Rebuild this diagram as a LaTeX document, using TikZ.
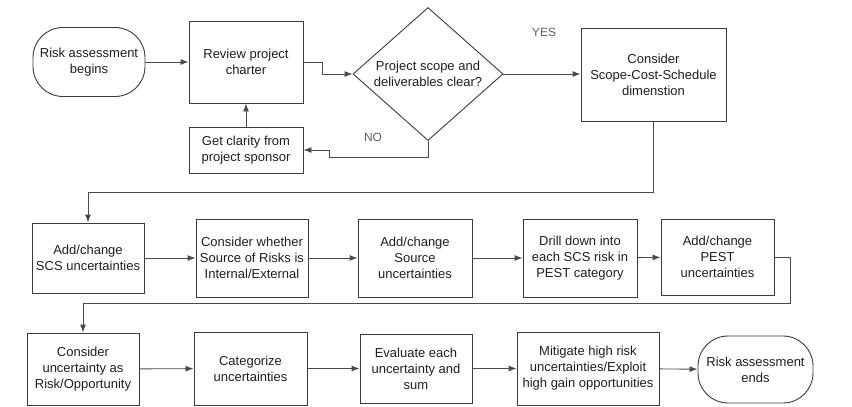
\documentclass[tikz,border=0pt]{standalone}
\usepackage{fontspec}
\setmainfont{Liberation Sans}
\usetikzlibrary{shapes.geometric,arrows.meta}
\definecolor{RAbox}{HTML}{3A3A3A}
\definecolor{RAline}{HTML}{4A4A4A}
\definecolor{RAtext}{HTML}{1E1E1E}
\definecolor{RAlabel}{HTML}{5E5E5E}
\newcommand{\boxfont}{\fontsize{13}{16}\selectfont}
\newcommand{\termround}{30pt}
\tikzset{
  stepbox/.style 2 args={draw=RAbox, line width=0.9pt, rectangle,
    align=center, inner sep=0pt, text=RAtext, font=\boxfont,
    minimum width=#1pt, minimum height=#2pt},
  termbox/.style 2 args={stepbox={#1}{#2}, rounded corners=\termround},
  decbox/.style={draw=RAbox, line width=0.9pt, diamond, aspect=1.13,
    align=center, inner sep=0pt, text=RAtext, font=\boxfont,
    minimum width=150pt, minimum height=133pt},
  answer/.style={text=RAlabel, font=\fontsize{12}{14}\selectfont, inner sep=0pt},
  flow/.style={draw=RAline, line width=0.9pt, -{Latex[length=8pt,width=6pt]}}
}

\begin{document}
\begin{tikzpicture}[x=1pt, y=-1pt]
  \useasboundingbox (0,0) rectangle (852,407);

  % top row
  \node[termbox={112}{69}] (rabegin) at (89,62) {Risk assessment\\begins};
  \node[stepbox={114}{82}] (review) at (246,62) {Review project\\charter};
  \node[decbox] (scopeclear) at (428,74) {Project scope and\\deliverables clear?};
  \node[stepbox={145}{93}] (scsdim) at (653.5,74.5) {Consider\\Scope-Cost-Schedule\\dimenstion};
  \node[stepbox={114}{46}] (clarity) at (246,150) {Get clarity from\\project sponsor};
  \node[answer] (yes) at (544,32) {YES};
  \node[answer] (no) at (373,137) {NO};

  % second row
  \node[stepbox={112}{70}] (scsadd) at (88,258) {Add/change\\SCS uncertainties};
  \node[stepbox={112}{78}] (srcint) at (252,258) {Consider whether\\Source of Risks is\\Internal/External};
  \node[stepbox={114}{78}] (srcadd) at (415,258) {Add/change\\Source\\uncertainties};
  \node[stepbox={114}{78}] (drillpest) at (580,258) {Drill down into\\each SCS risk in\\PEST category};
  \node[stepbox={113}{76}] (pestadd) at (717.5,257) {Add/change\\PEST\\uncertainties};

  % third row
  \node[stepbox={112}{72}] (riskopp) at (83,369) {Consider\\uncertainty as\\Risk/Opportunity};
  \node[stepbox={113}{73}] (categ) at (250.5,368.5) {Categorize\\uncertainties};
  \node[stepbox={112}{69}] (evalsum) at (416,368.5) {Evaluate each\\uncertainty and\\sum};
  \node[stepbox={142}{73}] (mitigate) at (588,368.5) {Mitigate high risk\\uncertainties/Exploit\\high gain opportunities};
  \node[termbox={115}{67}] (raend) at (755.5,369.5) {Risk assessment\\ends};

  % connectors
  \draw[flow] (rabegin) -- (review);
  \draw[flow] (review.east) -- ++(19,0) |- (scopeclear.west);
  \draw[flow] (scopeclear.east) -- (scopeclear.east -| scsdim.west);
  \draw[flow] (scopeclear.south) -- ++(0,16) -| ([xshift=26pt]clarity.east) -- (clarity.east);
  \draw[flow] (clarity) -- (review);
  \draw[flow] (scsdim.south) -- ++(0,71) -| (scsadd.north);
  \draw[flow] (scsadd) -- (srcint);
  \draw[flow] (srcint) -- (srcadd);
  \draw[flow] (srcadd) -- (drillpest);
  \draw[flow] (drillpest) -- (pestadd);
  \draw[flow] (pestadd.east) -- ++(16,0) -- ++(0,46) -| (riskopp.north);
  \draw[flow] (riskopp) -- (categ);
  \draw[flow] (categ) -- (evalsum);
  \draw[flow] (evalsum) -- (mitigate);
  \draw[flow] (mitigate) -- (raend);
\end{tikzpicture}
\end{document}
